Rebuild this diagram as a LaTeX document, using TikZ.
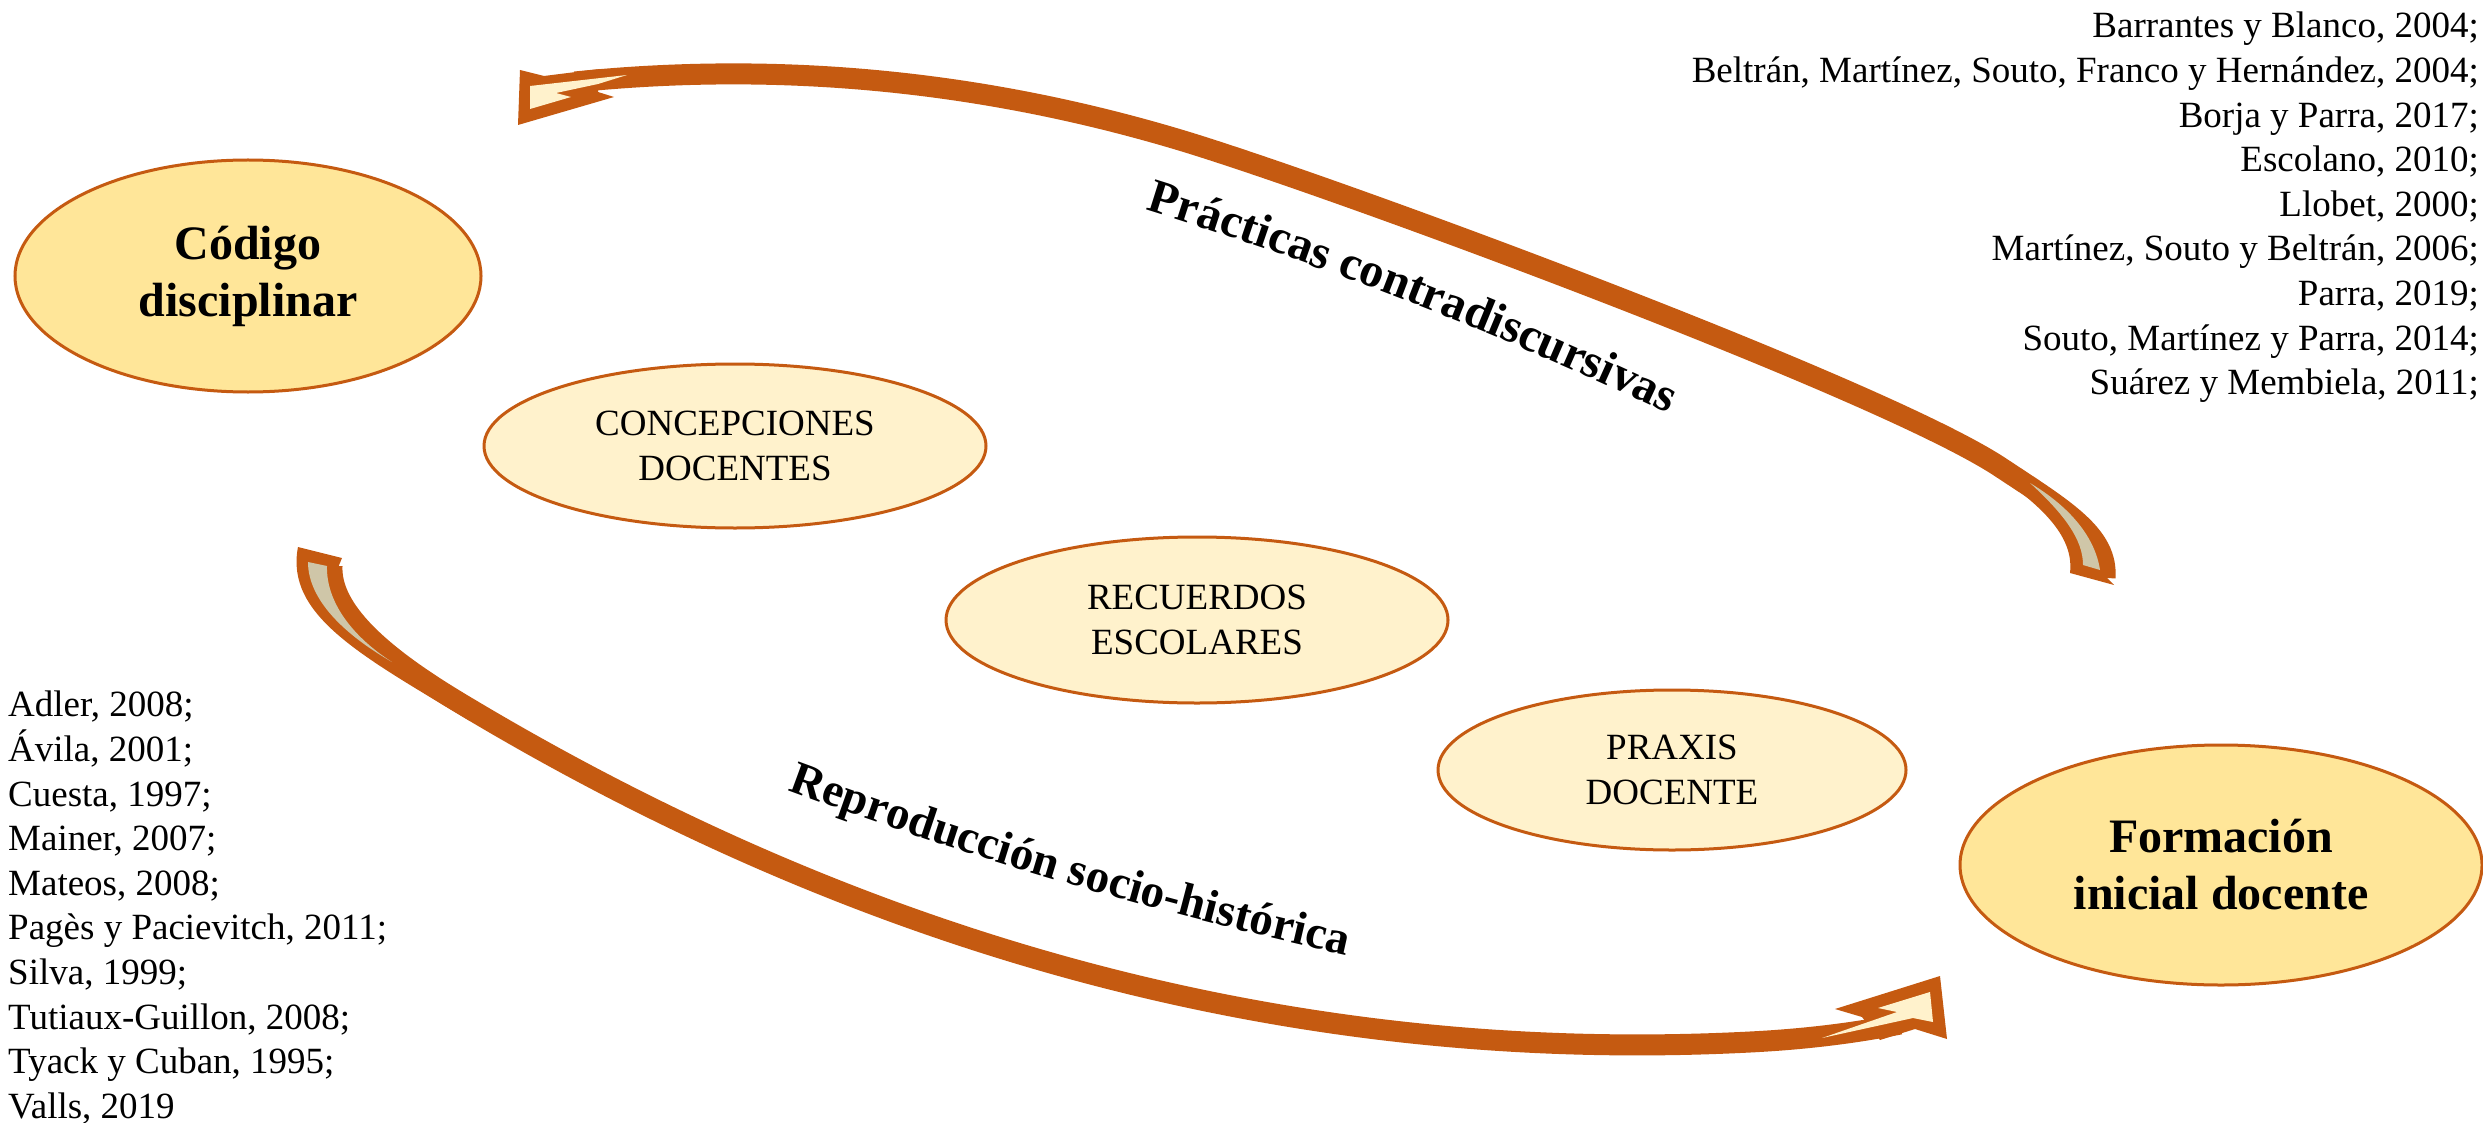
\documentclass[tikz,border=0pt]{standalone}
\usepackage{fontspec}
\setmainfont{Liberation Serif}
\usetikzlibrary{shapes.geometric,decorations.text}
\definecolor{orng}{HTML}{C55A11}
\definecolor{ylw}{HTML}{FFE699}
\definecolor{crm}{HTML}{FFF2CC}
\definecolor{tanfill}{HTML}{CFC6A8}
\begin{document}
\begin{tikzpicture}[x=1pt,y=-1pt,
  bigell/.style={ellipse, draw=orng, line width=3pt, fill=ylw, inner sep=0pt, align=center,
    font=\fontsize{48}{57}\selectfont\bfseries},
  smallell/.style={ellipse, draw=orng, line width=3pt, fill=crm, inner sep=0pt, align=center,
    font=\fontsize{37}{45}\selectfont},
  band/.style={draw=orng, line width=21pt, line cap=butt},
  reflist/.style={inner sep=0pt, font=\fontsize{37}{44.6}\selectfont}
  ]
\useasboundingbox (0,0) rectangle (2483,1123);
\fill[white] (0,0) rectangle (2483,1123);

% ---------- ellipses ----------
\node[bigell, minimum width=466pt, minimum height=232pt] (cod) at (248,276) {Código\\disciplinar};
\node[bigell, minimum width=522pt, minimum height=240pt] (form) at (2221,865) {Formación\\inicial docente};
\node[smallell, minimum width=502pt, minimum height=164pt] (conc) at (735,446) {CONCEPCIONES\\DOCENTES};
\node[smallell, minimum width=502pt, minimum height=166pt] (rec) at (1197,620) {RECUERDOS\\ESCOLARES};
\node[smallell, minimum width=468pt, minimum height=160pt] (prax) at (1672,770) {PRAXIS\\DOCENTE};

% ---------- top curved arrow (Prácticas contradiscursivas) ----------
\draw[band] (575,82) .. controls (781,61) and (983,81) .. (1180,140)
  .. controls (1330,185) and (1880,388) .. (2000,467)
  .. controls (2065,510) and (2108,535) .. (2105,578);
% tail widening (crescent)
\fill[orng] (1962,452) .. controls (2030,495) and (2075,530) .. (2070,573)
  -- (2114,585) -- (2104,575) -- (2080,520) -- (2020,480) -- cycle;
\fill[tanfill] (2030,483) .. controls (2070,507) and (2095,537) .. (2100,570)
  -- (2083,565) .. controls (2083,540) and (2065,515) .. (2030,483) -- cycle;
% head
\fill[orng] (520,70) -- (544,76) -- (600,69) -- (598,92) -- (614,97) -- (518,125) -- cycle;
\fill[crm] (530,86) -- (627,75) -- (598,84) -- (556,93) -- (571,97) -- (530,109) -- cycle;

% ---------- bottom curved arrow (Reproducción socio-histórica) ----------
\draw[band] (332,566) .. controls (330,610) and (380,655) .. (460,703)
  .. controls (874,952) and (1304,1065) .. (1750,1042)
  .. controls (1810,1039) and (1860,1032) .. (1900,1024);
% tail widening (crescent)
\fill[orng] (470,721) .. controls (360,655) and (285,615) .. (298,547)
  -- (342,558) -- (335,575) -- (350,625) -- (400,665) -- cycle;
\fill[tanfill] (308,562) -- (327,566) .. controls (326,600) and (350,635) .. (392,662)
  .. controls (345,635) and (308,600) .. (308,562) -- cycle;
% head
\fill[orng] (1835,1009) -- (1940,976) -- (1947,1039) -- (1915,1029) -- (1880,1040) -- (1862,1017) -- cycle;
\fill[crm] (1930,992) -- (1878,1008) -- (1897,1012) -- (1822,1038) -- (1913,1018) -- (1933,1022) -- cycle;

% ---------- arrow labels ----------
\path[decorate, decoration={text along path, text align=center,
   text={|\fontsize{48}{48}\selectfont\bfseries|Prácticas contradiscursivas}}]
  (1086,191) -- (1143,209) .. controls (1324,265) and (1500,334) .. (1671,415) -- (1725,441);
\path[decorate, decoration={text along path, text align=center,
   text={|\fontsize{47}{47}\selectfont\bfseries|Reproducción socio-histórica}}]
  (731,769) -- (787,790) .. controls (970,858) and (1156,913) .. (1346,955) -- (1405,968);

% ---------- reference lists ----------
\node[reflist, anchor=north west, align=left] (refL) at (8,691)
 {Adler, 2008;\\Ávila, 2001;\\Cuesta, 1997;\\Mainer, 2007;\\Mateos, 2008;\\Pagès y Pacievitch, 2011;\\Silva, 1999;\\Tutiaux-Guillon, 2008;\\Tyack y Cuban, 1995;\\Valls, 2019};
\node[reflist, anchor=north east, align=right] (refR) at (2479,12)
 {Barrantes y Blanco, 2004;\\Beltrán, Martínez, Souto, Franco y Hernández, 2004;\\Borja y Parra, 2017;\\Escolano, 2010;\\Llobet, 2000;\\Martínez, Souto y Beltrán, 2006;\\Parra, 2019;\\Souto, Martínez y Parra, 2014;\\Suárez y Membiela, 2011;};
\end{tikzpicture}
\end{document}
